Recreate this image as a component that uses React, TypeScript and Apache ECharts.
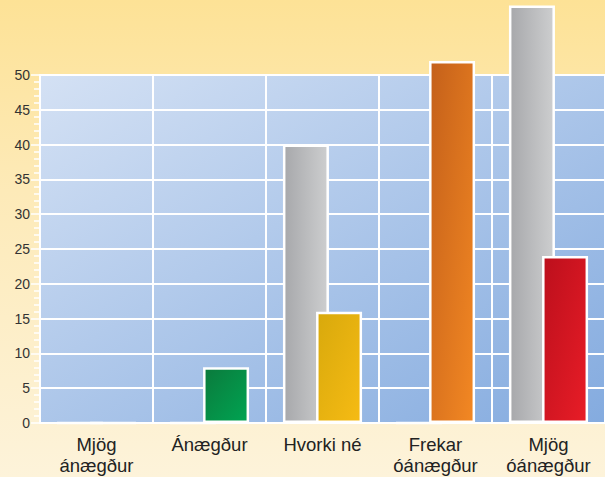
import React, { useEffect, useRef } from "react";
import * as echarts from "echarts";

const categories = ["Mjög\nánægður", "Ánægður", "Hvorki né", "Frekar\nóánægður", "Mjög\nóánægður"];
const grayValues = [0, 0, 40, 0, 60];
const colorValues = [0, 8, 16, 52, 24];
const colorStops: [string, string][] = [
  ["#0b7a3c", "#00a452"],
  ["#0b7a3c", "#00a452"],
  ["#d8a90c", "#f6bb14"],
  ["#c4601a", "#f38823"],
  ["#bc0f1c", "#e81d27"],
];
const yTicks = { min: 0, max: 50, interval: 5 };

export default function App() {
  const ref = useRef<HTMLDivElement>(null);
  useEffect(() => {
    if (!ref.current) return;
    const chart = echarts.init(ref.current, undefined, { renderer: "svg" });
    const font = "'Liberation Sans', Arial, Helvetica, sans-serif";
    chart.setOption({
      animation: false,
      grid: {
        left: 40,
        top: 75,
        width: 573,
        height: 348,
        show: true,
        borderWidth: 0,
        backgroundColor: new echarts.graphic.LinearGradient(0, 0, 1, 1, [
          { offset: 0, color: "#d4e1f4" },
          { offset: 1, color: "#84abdf" },
        ]),
      },
      xAxis: {
        type: "category",
        data: categories,
        axisTick: { show: false },
        axisLine: { show: true, lineStyle: { color: "#ffffff", width: 2 } },
        splitLine: { show: true, lineStyle: { color: "#ffffff", width: 2 } },
        axisLabel: {
          color: "#222222",
          fontFamily: font,
          fontSize: 18.5,
          lineHeight: 21,
          margin: 11,
          interval: 0,
        },
      },
      yAxis: {
        type: "value",
        min: yTicks.min,
        max: yTicks.max,
        interval: yTicks.interval,
        axisLine: { show: true, lineStyle: { color: "#ffffff", width: 2 } },
        axisTick: { show: true, length: 9, lineStyle: { color: "#ffffff", width: 1.5 } },
        minorTick: { show: true, splitNumber: 5, length: 6, lineStyle: { color: "#ffffff", width: 1.5 } },
        splitLine: { show: true, lineStyle: { color: "#ffffff", width: 2 } },
        axisLabel: {
          color: "#333333",
          fontFamily: font,
          fontSize: 14,
          margin: 10,
        },
      },
      series: [
        {
          type: "bar",
          data: grayValues,
          barWidth: 46,
          barGap: "-28%",
          clip: false,
          itemStyle: {
            borderColor: "#ffffff",
            borderWidth: 2.5,
            color: new echarts.graphic.LinearGradient(0, 0, 1, 0, [
              { offset: 0, color: "#a7a8ab" },
              { offset: 1, color: "#cdcecf" },
            ]),
          },
        },
        {
          type: "bar",
          barWidth: 46,
          barGap: "-28%",
          clip: false,
          data: colorValues.map((v, i) => ({
            value: v,
            itemStyle: {
              borderColor: "#ffffff",
              borderWidth: 2.5,
              color: new echarts.graphic.LinearGradient(0, 0, 1, 1, [
                { offset: 0, color: colorStops[i][0] },
                { offset: 1, color: colorStops[i][1] },
              ]),
            },
          })),
        },
      ],
    });
    return () => chart.dispose();
  }, []);
  return (
    <div
      style={{
        position: "fixed",
        left: 0,
        top: 0,
        width: 605,
        height: 477,
        background: "linear-gradient(180deg, #fde296 0%, #fdeab8 40%, #fdf3da 100%)",
      }}
    >
      <div ref={ref} style={{ width: 605, height: 477 }} />
    </div>
  );
}
